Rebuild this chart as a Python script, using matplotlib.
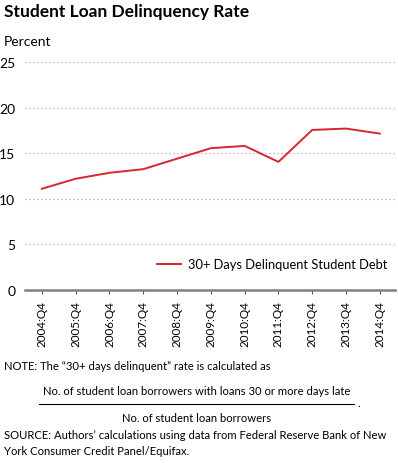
import matplotlib.pyplot as plt
from matplotlib.lines import Line2D

# dados
trimestres = ["2004:Q4", "2005:Q4", "2006:Q4", "2007:Q4", "2008:Q4", "2009:Q4",
              "2010:Q4", "2011:Q4", "2012:Q4", "2013:Q4", "2014:Q4"]
taxa_30dias = [11.1, 12.2, 12.85, 13.25, 14.4, 15.55, 15.8, 14.05, 17.55, 17.7, 17.15]
ticks_y = [0, 5, 10, 15, 20, 25]

plt.rcParams['font.family'] = ['Lato', 'DejaVu Sans']
plt.rcParams['font.size'] = 9

fig = plt.figure(figsize=(3.98, 4.64), dpi=100)
ax = fig.add_axes([25 / 398, 1 - 291 / 464, 370 / 398, (291 - 63) / 464])

x = list(range(len(trimestres)))
ax.plot(x, taxa_30dias, color='#d7262e', linewidth=1.4,
        label='30+ Days Delinquent Student Debt')

ax.set_xlim(-0.5, 10.45)
ax.set_ylim(0, 25)
ax.set_yticks(ticks_y)
ax.set_xticks(x)
ax.set_xticklabels(trimestres, rotation=90, fontsize=8.4)
ax.tick_params(axis='y', length=0, pad=7, labelsize=10)
ax.tick_params(axis='x', length=3, width=0.8, color='#555555', pad=4)

for y in ticks_y[1:]:
    ax.axhline(y, color='#aaaaaa', linewidth=0.9, linestyle=(0, (1, 2.2)), zorder=0)
for s in ['top', 'right', 'left']:
    ax.spines[s].set_visible(False)
ax.spines['bottom'].set_color('#808080')
ax.spines['bottom'].set_linewidth(1.8)

ax.legend(loc='lower right', frameon=False, fontsize=9.3, handlelength=1.9,
          handletextpad=0.5, bbox_to_anchor=(1.01, 0.035))

fig.text(4 / 398, 1 - 12 / 464, 'Student Loan Delinquency Rate', fontsize=12.5,
         fontweight='bold', va='center', ha='left')
fig.text(4 / 398, 1 - 42 / 464, 'Percent', fontsize=10, va='center', ha='left')

fs = 8.1
fig.text(4 / 398, 1 - 366 / 464,
         'NOTE: The \u201c30+ days delinquent\u201d rate is calculated as',
         fontsize=fs, va='center', ha='left')
fig.text(197 / 398, 1 - 392 / 464,
         'No. of student loan borrowers with loans 30 or more days late',
         fontsize=fs, va='center', ha='center')
fig.add_artist(Line2D([39 / 398, 354 / 398], [1 - 405 / 464, 1 - 405 / 464],
                      color='black', linewidth=0.8))
fig.text(357 / 398, 1 - 404 / 464, '.', fontsize=fs, va='center', ha='left')
fig.text(197 / 398, 1 - 419 / 464, 'No. of student loan borrowers',
         fontsize=fs, va='center', ha='center')
fig.text(4 / 398, 1 - 436 / 464,
         'SOURCE: Authors\u2019 calculations using data from Federal Reserve Bank of New',
         fontsize=fs, va='center', ha='left')
fig.text(4 / 398, 1 - 452 / 464, 'York Consumer Credit Panel/Equifax.',
         fontsize=fs, va='center', ha='left')

fig.savefig('out.png', dpi=100)
